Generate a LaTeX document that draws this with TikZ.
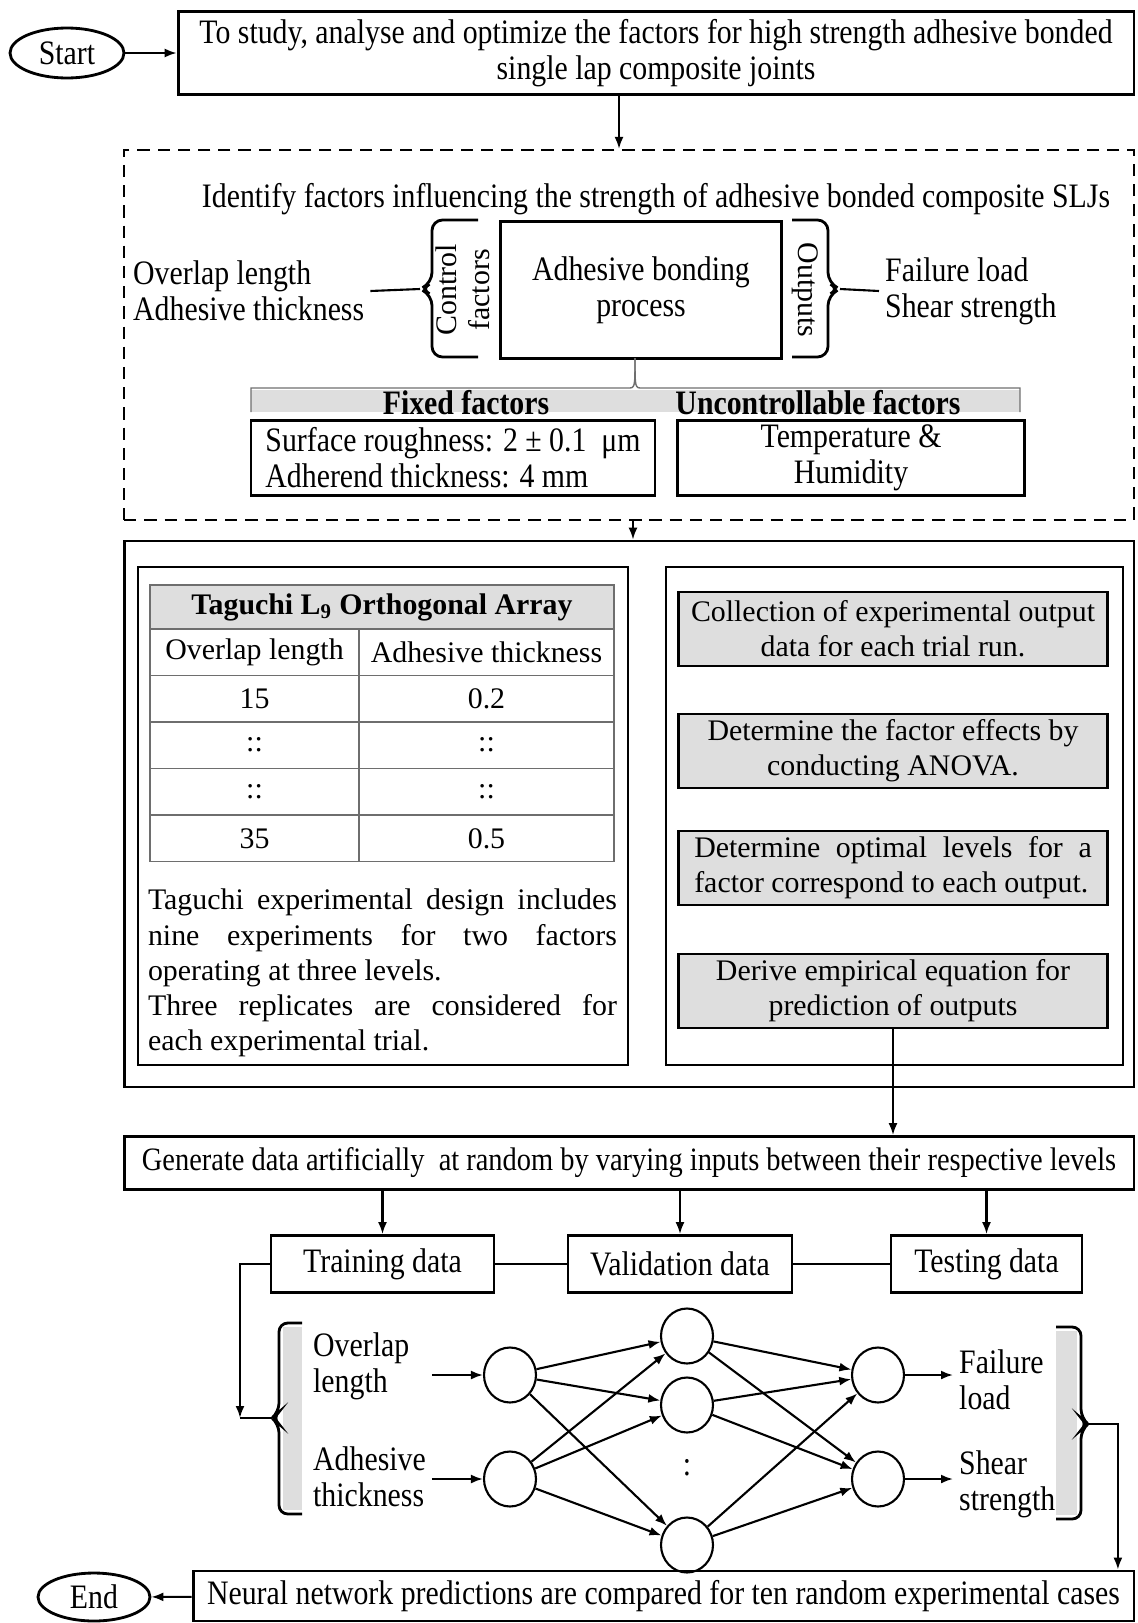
\documentclass[tikz,border=0pt]{standalone}
\usepackage{fontspec}
\setmainfont{Liberation Serif}
\newfontfamily\narrowfont[FakeStretch=0.87]{Liberation Serif}
\usetikzlibrary{arrows.meta, shapes.geometric, positioning}
\setlength{\parindent}{0pt}

\definecolor{shadegrey}{RGB}{222,222,222}
\definecolor{rulegrey}{RGB}{110,110,110}

\tikzset{
  topfont/.style={font=\narrowfont\fontsize{19.5}{20.5}\selectfont},
  midfont/.style={font=\fontsize{17}{20}\selectfont},
  box/.style={draw, line width=1.6pt, align=center, inner sep=2pt},
  shadebox/.style={box, midfont, fill=shadegrey, minimum width=8.58cm, minimum height=1.48cm},
  cell/.style={draw=rulegrey, line width=0.8pt, midfont, minimum height=0.932cm},
  neuron/.style={draw, ellipse, line width=1.2pt, minimum width=1.04cm, minimum height=1.1cm},
  flow/.style={-{Latex[length=2.4mm, width=1.8mm]}, line width=1.2pt},
  link/.style={line width=1.2pt}
}

\begin{document}
\begin{tikzpicture}[x=0.02cm, y=-0.02cm]
    \useasboundingbox (0,0) rectangle (1137,1623);

    % aim of the work
    \node[box, ellipse, topfont, minimum width=2.28cm, minimum height=1cm] (start) at (67,53) {Start};
    \node[box, topfont, minimum width=19.12cm, minimum height=1.66cm] (aim) at (656,53) {To study, analyse and optimize the factors for high strength adhesive bonded\\single lap composite joints};

    % factors
    \node[box, dashed, dash pattern=on 7pt off 4.5pt, line width=1.3pt, minimum width=20.2cm, minimum height=7.4cm] (factors) at (629,335) {};
    \node[topfont] (identify) at (656,199) {Identify factors influencing the strength of adhesive bonded composite SLJs};
    \node[box, topfont, minimum width=5.62cm, minimum height=2.74cm] (process) at (641,290) {Adhesive bonding\\process};
    \node[rotate=90, align=center, font=\fontsize{17}{19}\selectfont] (control) at (463,290) {Control\\factors};
    \node[rotate=-90, font=\fontsize{17}{19}\selectfont] (outputs) at (805,290) {Outputs};
    \node[topfont, align=left, anchor=west] (inputs) at (127,291) {Overlap length\\Adhesive thickness};
    \node[topfont, align=left, anchor=west] (results) at (879,291) {Failure load\\Shear strength};

    \coordinate (ctrltip) at (420,289);
    \coordinate (outtip) at (840,289);
    \draw[line width=1.6pt, rounded corners=6pt] (478,220) -- (432,220) -- (432,283) -- (ctrltip) -- (432,295) -- (432,357) -- (478,357);
    \draw[line width=1.6pt, rounded corners=6pt] (792,220) -- (828,220) -- (828,283) -- (outtip) -- (828,295) -- (828,357) -- (792,357);
    \draw[link] (inputs.east) -- (ctrltip);
    \draw[link] (outtip) -- (results.west);

    % fixed and uncontrollable factors
    \fill[shadegrey] (251,390) rectangle (1020,412);
    \draw[rulegrey, line width=0.8pt] (251,412) |- (628,388) .. controls (635,388) .. (635,358);
    \draw[rulegrey, line width=0.8pt] (1020,412) |- (642,388) .. controls (635,388) .. (635,358);
    \node[font=\narrowfont\bfseries\fontsize{19.5}{20}\selectfont] (fixedhead) at (466,403) {Fixed factors};
    \node[font=\narrowfont\bfseries\fontsize{19.5}{20}\selectfont] (unctrlhead) at (818,403) {Uncontrollable factors};
    \node[box, topfont, align=left, minimum width=8.08cm, minimum height=1.5cm] (fixed) at (453,458) {Surface roughness: 2 ± 0.1~~μm\\Adherend thickness: 4 mm};
    \node[box, topfont, minimum width=6.94cm, minimum height=1.5cm] (unctrl) at (851,458) {Temperature \&\\Humidity};

    \draw[flow] (start) -- (aim);
    \draw[flow] ([xshift=-0.74cm]aim.south) -- ([xshift=-0.74cm]aim.south |- factors.north);

    % experimental design
    \node[box, minimum width=20.2cm, minimum height=10.92cm] (design) at (629,814) {};
    \node[box, minimum width=9.8cm, minimum height=9.96cm] (taguchi) at (383,816) {};
    \node[box, minimum width=9.14cm, minimum height=9.96cm] (analysis) at (894.5,816) {};
    \draw[flow] ([xshift=0.08cm]factors.south) -- ([xshift=0.08cm]factors.south |- design.north);

    \node[cell, fill=shadegrey, minimum width=9.28cm, minimum height=0.88cm, font=\bfseries\fontsize{17}{20}\selectfont] (tabhead) at (382,607) {Taguchi L\textsubscript{9} Orthogonal Array};
    \node[cell, minimum width=4.18cm] (ol0) at (254.5,652) {Overlap length};
    \node[cell, minimum width=5.1cm] (at0) at (486.5,652) {Adhesive thickness};
    \node[cell, minimum width=4.18cm] (ol1) at ([yshift=-0.932cm]ol0) {15};
    \node[cell, minimum width=5.1cm] (at1) at ([yshift=-0.932cm]at0) {0.2};
    \node[cell, minimum width=4.18cm] (ol2) at ([yshift=-0.932cm]ol1) {::};
    \node[cell, minimum width=5.1cm] (at2) at ([yshift=-0.932cm]at1) {::};
    \node[cell, minimum width=4.18cm] (ol3) at ([yshift=-0.932cm]ol2) {::};
    \node[cell, minimum width=5.1cm] (at3) at ([yshift=-0.932cm]at2) {::};
    \node[cell, minimum width=4.18cm] (ol4) at ([yshift=-0.932cm]ol3) {35};
    \node[cell, minimum width=5.1cm] (at4) at ([yshift=-0.932cm]at3) {0.5};

    \node[midfont, text width=9.38cm, align=justify, inner sep=0pt] (note) at (382.5,973) {Taguchi experimental design includes\linebreak nine experiments for two factors\linebreak operating at three levels.\par Three replicates are considered for\linebreak each experimental trial.};

    \node[shadebox] (collect) at (893,629) {Collection of experimental output\\data for each trial run.};
    \node[shadebox] (anova) at (893,751) {Determine the factor effects by\\conducting ANOVA.};
    \node[shadebox, text width=7.95cm, align=justify] (optimal) at (893,868) {Determine optimal levels for a\linebreak factor correspond to each output.};
    \node[shadebox] (derive) at (893,991) {Derive empirical equation for\\prediction of outputs};

    % data generation
    \node[box, topfont, font=\narrowfont\fontsize{18.6}{20}\selectfont, minimum width=20.2cm, minimum height=1.06cm] (generate) at (629,1163) {Generate data artificially~ at random by varying inputs between their respective levels};
    \draw[flow] (derive.south) -- (derive.south |- generate.north);

    \node[box, topfont, minimum width=4.46cm, minimum height=1.14cm] (train) at (382.5,1264) {Training data};
    \node[box, topfont, minimum width=4.48cm, minimum height=1.14cm] (valid) at (680,1264) {Validation data};
    \node[box, topfont, minimum width=3.82cm, minimum height=1.14cm] (test) at (986.5,1264) {Testing data};
    \draw[flow] (train |- generate.south) -- (train.north);
    \draw[flow] (valid |- generate.south) -- (valid.north);
    \draw[flow] (test |- generate.south) -- (test.north);
    \draw[link] (train) -- (valid);
    \draw[link] (valid) -- (test);

    % neural network
    \coordinate (feed) at (240,1418);
    \coordinate (inbrace) at (272,1418);
    \coordinate (outbrace) at (1088,1424);
    \fill[shadegrey] (283,1327) rectangle (302,1510);
    \fill[shadegrey] (1056,1331) rectangle (1077,1515);
    \draw[line width=1.6pt, rounded corners=5pt] (302,1323) -- (279,1323) -- (279,1412) -- (inbrace) -- (279,1424) -- (279,1514) -- (302,1514);
    \draw[line width=1.6pt, rounded corners=5pt] (1056,1327) -- (1081,1327) -- (1081,1418) -- (outbrace) -- (1081,1430) -- (1081,1519) -- (1056,1519);
    \draw[flow] (train.west) -| (feed);
    \draw[link] (feed) -- (inbrace);

    \node[topfont, align=left, anchor=west] (inlen) at (307,1366) {Overlap\\length};
    \node[topfont, align=left, anchor=west] (inthk) at (307,1477) {Adhesive\\thickness};
    \node[topfont, align=left, anchor=west] (outload) at (953,1380) {Failure\\load};
    \node[topfont, align=left, anchor=west] (outshear) at (953,1484) {Shear\\strength};

    \node[neuron] (i1) at (510,1375) {};
    \node[neuron] (i2) at (510,1479) {};
    \node[neuron] (h1) at (687,1336) {};
    \node[neuron] (h2) at (687,1405) {};
    \node[neuron] (h3) at (687,1545) {};
    \node[topfont] (dots) at (687,1468) {:};
    \node[neuron] (o1) at (878,1375) {};
    \node[neuron] (o2) at (878,1479) {};

    \draw[flow] (inthk.east |- i1) -- (i1);
    \draw[flow] (inthk.east |- i2) -- (i2);
    \draw[flow] (i1) -- (h1);
    \draw[flow] (i1) -- (h2);
    \draw[flow] (i1) -- (h3);
    \draw[flow] (i2) -- (h1);
    \draw[flow] (i2) -- (h2);
    \draw[flow] (i2) -- (h3);
    \draw[flow] (h1) -- (o1);
    \draw[flow] (h1) -- (o2);
    \draw[flow] (h2) -- (o1);
    \draw[flow] (h2) -- (o2);
    \draw[flow] (h3) -- (o1);
    \draw[flow] (h3) -- (o2);
    \draw[flow] (o1) -- (o1 -| outload.west);
    \draw[flow] (o2) -- (o2 -| outshear.west);

    % comparison
    \node[box, topfont, minimum width=18.82cm, minimum height=1.0cm] (neural) at (663.5,1596) {Neural network predictions are compared for ten random experimental cases};
    \node[box, ellipse, topfont, minimum width=2.24cm, minimum height=0.96cm] (stop) at (94,1597) {End};
    \draw[flow] (outbrace) -| ([xshift=9.09cm]neural.north);
    \draw[flow] (neural) -- (stop);

\end{tikzpicture}
\end{document}
